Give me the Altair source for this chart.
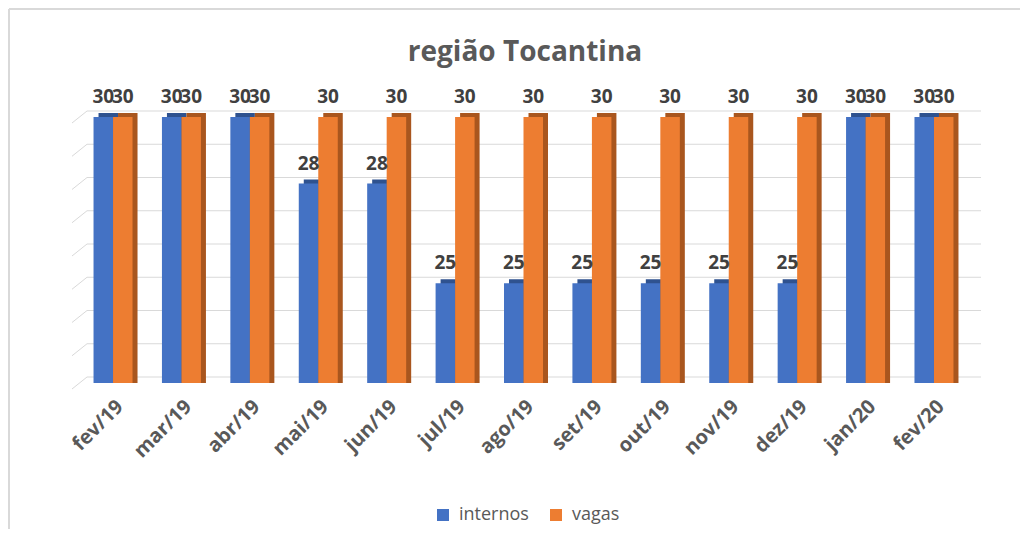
import altair as alt
import pandas as pd

months = ["fev/19", "mar/19", "abr/19", "mai/19", "jun/19", "jul/19", "ago/19",
          "set/19", "out/19", "nov/19", "dez/19", "jan/20", "fev/20"]
internos = [30, 30, 30, 28, 28, 25, 25, 25, 25, 25, 25, 30, 30]
vagas = [30, 30, 30, 30, 30, 30, 30, 30, 30, 30, 30, 30, 30]
series_names = ["internos", "vagas"]
front_colors = ["#4472C4", "#ED7D31"]
dark_colors = ["#2F528F", "#A9561E"]
grid_values = [22, 23, 24, 25, 26, 27, 28, 29, 30]
title_text = "região Tocantina"

W, H = 891, 266
FONT = "Open Sans"
YMIN, YMAX = 22, 30

rows = []
for m, a, b in zip(months, internos, vagas):
    rows.append({"month": m, "series": "internos", "value": a})
    rows.append({"month": m, "series": "vagas", "value": b})
df = pd.DataFrame(rows)

xenc = alt.X("month:N", sort=months, title=None,
             scale=alt.Scale(paddingInner=0.43, paddingOuter=0.227),
             axis=alt.Axis(labelAngle=315, labelFontSize=20, labelFontWeight="bold",
                           labelColor="#595959", labelFont=FONT, domain=False,
                           ticks=False, labelPadding=13, grid=False))
yscale = alt.Scale(domain=[YMIN, YMAX], zero=False, nice=False)
yenc = alt.Y("value:Q", scale=yscale, axis=None)

base = alt.Chart(df)

# border of the chart frame
border_left = alt.Chart(pd.DataFrame({"a": [0]})).mark_rule(color="#d9d9d9", strokeWidth=2).encode(
    x=alt.value(-69), y=alt.value(-108), y2=alt.value(412))
border_top = alt.Chart(pd.DataFrame({"a": [0]})).mark_rule(color="#d9d9d9", strokeWidth=2).encode(
    x=alt.value(-69), x2=alt.value(942), y=alt.value(-108))

gdf = pd.DataFrame({"g": grid_values})
grid_h = alt.Chart(gdf).mark_rule(color="#d9d9d9", strokeWidth=1, yOffset=-6).encode(
    y=alt.Y("g:Q", scale=yscale, axis=None),
    x=alt.value(9), x2=alt.value(903))
grid_s = alt.Chart(gdf).mark_rule(color="#d9d9d9", strokeWidth=1, yOffset=6, y2Offset=-6).encode(
    y=alt.Y("g:Q", scale=yscale, axis=None),
    y2="g:Q",
    x=alt.value(-6), x2=alt.value(9))

back = base.mark_bar(yOffset=-4).encode(
    x=xenc,
    xOffset=alt.XOffset("series:N", sort=series_names, scale=alt.Scale(range=[5, 44])),
    y=yenc, y2=alt.datum(YMIN),
    color=alt.Color("series:N", scale=alt.Scale(domain=series_names, range=dark_colors), legend=None))

front = base.mark_bar().encode(
    x=xenc,
    xOffset=alt.XOffset("series:N", sort=series_names, scale=alt.Scale(range=[0, 39])),
    y=yenc, y2=alt.datum(YMIN),
    color=alt.Color("series:N", scale=alt.Scale(domain=series_names, range=front_colors),
                    legend=alt.Legend(title=None, orient="none", direction="horizontal",
                                      legendX=356, legendY=389, symbolType="square",
                                      symbolSize=144, symbolStrokeWidth=0,
                                      labelFontSize=18, labelColor="#595959", labelFont=FONT,
                                      padding=0, columnPadding=18, labelOffset=7)))

labels = base.mark_text(dy=-14, baseline="alphabetic", fontWeight="bold", fontSize=19,
                        color="#404040", font=FONT).encode(
    x=xenc,
    xOffset=alt.XOffset("series:N", sort=series_names, scale=alt.Scale(range=[0, 39])),
    y=yenc, text="value:Q")

title = alt.Chart(pd.DataFrame({"t": [title_text]})).mark_text(
    fontSize=28, fontWeight="bold", color="#595959", font=FONT, baseline="alphabetic").encode(
    x=alt.value(447), y=alt.value(-56), text="t:N")

chart = alt.layer(border_left, border_top, grid_h, grid_s, back, front, labels, title).resolve_scale(
    color="independent", xOffset="independent").properties(
    width=W, height=H, padding=0).configure_view(stroke=None)

chart.save("out.html", embed_options={"renderer": "svg", "actions": False})
